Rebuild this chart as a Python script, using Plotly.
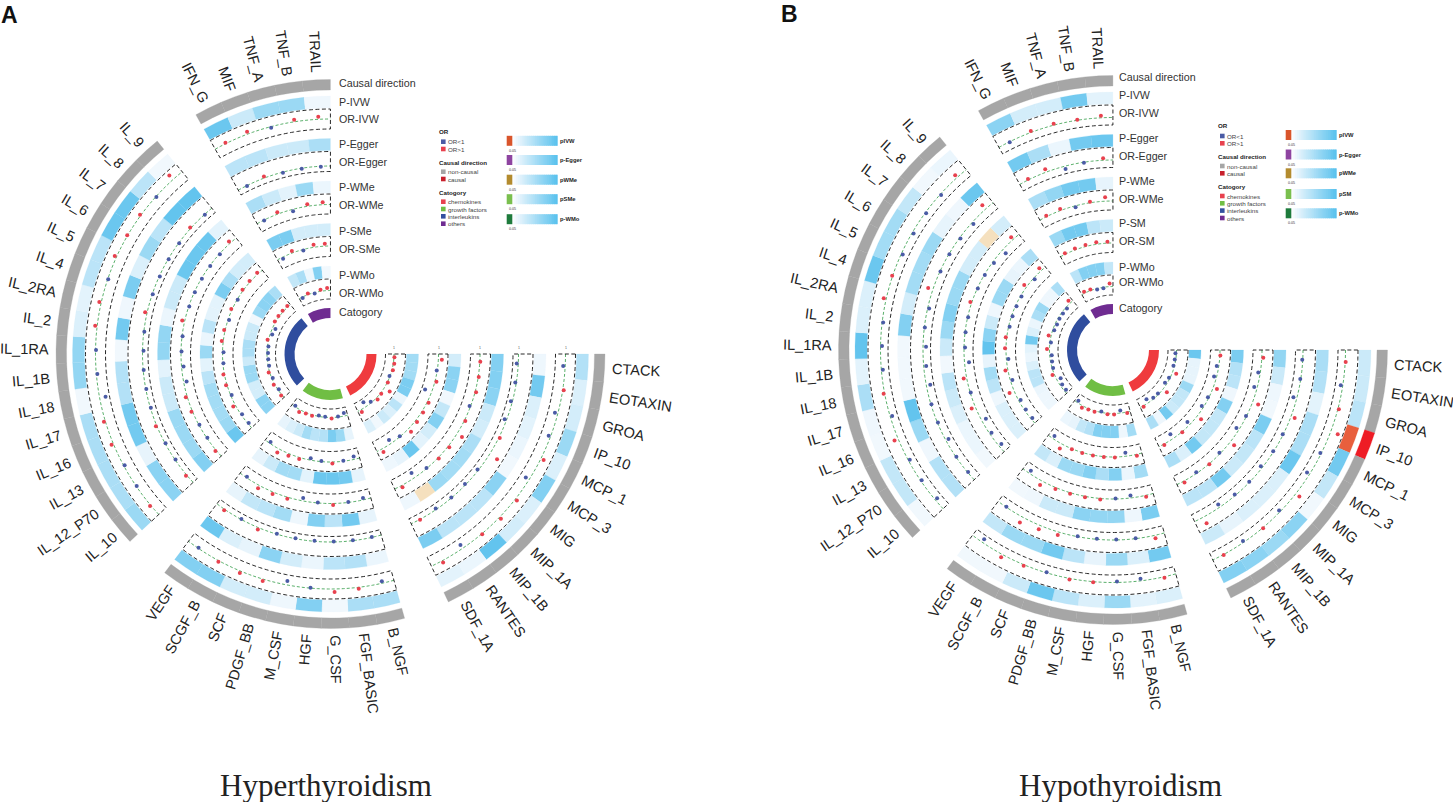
import numpy as np
import plotly.graph_objects as go

W, H = 1453, 802

CHEMOKINES = ["CTACK","EOTAXIN","GROA","IP_10","MCP_1","MCP_3","MIG","MIP_1A","MIP_1B","RANTES","SDF_1A"]
GROWTH = ["B_NGF","FGF_BASIC","G_CSF","HGF","M_CSF","PDGF_BB","SCF","SCGF_B","VEGF"]
INTERLEUKINS = ["IL_10","IL_12_P70","IL_13","IL_16","IL_17","IL_18","IL_1B","IL_1RA","IL_2","IL_2RA","IL_4","IL_5","IL_6","IL_7","IL_8","IL_9"]
OTHERS = ["IFN_G","MIF","TNF_A","TNF_B","TRAIL"]

# P values: chemokines | growth factors | interleukins | others
P_IVW_A = [.45,.2,.25,.6,.2,.75,.2,.25,.95,.1,.15, .5,.5,.06,.75,.08,.25,.25,.75,.75,
           .6,.5,.5,.5,.5,.06,.65,.65,.2,.15,.4,.4,.9,.9,.4,.06, .9,.3,.6,.6,.07]
P_EGG_A = [.08,.85,.2,.15,.1,.06,.7,.4,.4,.4,.8, .1,.45,.4,.1,.25,.7,.12,.2,.9,
           .7,.7,.12,.85,.85,.45,.45,.06,.85,.07,.8,.2,.6,.4,.95,.95, .4,.4,.3,.3,.5]
P_WME_A = [.75,.75,.7,.3,.25,.5,.55,.55,.6,.04,.08, .12,.85,.4,.75,.08,.55,.4,.35,.12,
           .75,.6,.6,.6,.3,.3,.15,.65,.65,.1,.3,.3,.9,.9,.9,.15, .5,.3,.15,.6,.1]
P_SME_A = [.25,.7,.7,.06,.35,.75,.25,.15,.9,.12,.08, .12,.85,.9,.9,.15,.55,.55,.3,.12,
           .9,.6,.55,.55,.55,.4,.15,.6,.1,.4,.15,.15,.8,.5,.25,.25, .8,.8,.25,.25,.25]
P_WMO_A = [.55,.55,.55,.8,.8,.1,.4,.2,.3,.06,.2, .12,.6,.8,.45,.4,.55,.3,.2,.12,
           .7,.7,.25,.25,.6,.6,.3,.5,.5,.3,.3,.06,.6,.7,.7,.5, .35,.5,.08,.75,.06]

P_IVW_B = [.3,.3,.4,.015,.85,.35,.06,.7,.6,.7,.75, .2,.15,.6,.2,.4,.9,.3,.06,.06,
           .06,.35,.35,.06,.07,.5,.15,.95,.2,.2,.9,.55,.55,.35,.06,.1, .7,.25,.25,.85,.15]
P_EGG_B = [.5,.45,.15,.5,.5,.9,.2,.2,.2,.12,.3, .85,.2,.6,.12,.4,.85,.6,.6,.35,
           .45,.45,.07,.6,.95,.06,.06,.06,.75,.25,.55,.55,.6,.12,.07,.9, .85,.5,.1,.85,.9]
P_WME_B = [.65,.3,.08,.06,.8,.4,.35,.3,.85,.4,.4, .8,.08,.65,.65,.7,.3,.3,.07,.06,
           .06,.1,.1,.2,.3,.4,.06,.3,.6,.75,.6,.6,.25,.25,.04,.25, .5,.65,.85,.85,.12]
P_SME_B = [.8,.45,.4,.07,.75,.35,.35,.35,.85,.2,.5, .55,.1,.75,.5,.75,.6,.6,.2,.35,
           .2,.2,.2,.08,.4,.55,.12,.95,.7,.3,.07,.6,.6,.12,.1,.5, .6,.85,.85,.4,.3]
P_WMO_B = [.9,.12,.12,.12,.6,.35,.35,.3,.85,.08,.5, .55,.08,.75,.75,.75,.45,.35,.12,.1,
           .08,.08,.1,.4,.4,.2,.1,.15,.85,.2,.1,.5,.6,.08,.08,.5, .4,.75,.75,.75,.35]

# Odds ratios
OR_IVW_A = [.96,1.02,.94,.96,1.06,.92,1.04,1.04,1.01,.92,1.04, .96,1.03,1.06,.99,.92,1.04,1.04,1.02,.99,
            1.02,.99,.98,1.04,1.03,.88,.98,.99,1.04,1.04,.99,1.04,1.01,1.02,.99,1.11, 1.02,1.05,.98,1.04,1.05]
OR_EGG_A = [.97,.98,.97,.96,1.02,1.18,.98,.98,.99,.98,1.01, .99,.99,.99,.99,.99,.99,1.04,.99,1.02,
            1.02,.99,.99,1.02,.99,.99,.99,.98,.99,1.04,.99,.99,.99,.99,1.02,.99, .99,1.03,.99,.99,.99]
OR_WME_A = [1.01,1.01,1.02,.98,1.02,1.12,1.03,1.02,.99,.89,1.04, .96,.99,1.03,.99,.94,1.03,1.04,1.06,.98,
            1.02,.99,.99,1.02,1.03,.94,.96,.99,.99,1.05,.99,.99,.99,.99,.99,1.04, .99,1.04,.96,1.04,1.05]
OR_SME_A = [1.07,.99,1.03,.86,1.03,1.03,1.04,1.08,.99,.92,1.07, .94,.99,1.03,.99,.96,1.03,1.04,1.08,.97,
            .98,.98,1.05,.98,1.02,1.02,.99,.98,1.03,1.02,.98,1.02,.99,1.02,1.02,1.03, .97,1.04,.98,1.05,1.05]
OR_WMO_A = [1.01,1.02,1.02,.99,1.01,1.13,1.02,1.04,.98,.90,1.05, .94,.99,1.02,.99,.98,1.02,1.02,1.05,.98,
            1.02,.98,1.02,.98,1.02,.98,.98,.98,.98,1.02,.96,.94,1.02,1.02,1.02,1.02, .98,1.02,.98,1.03,1.05]

OR_IVW_B = [1.01,.96,1.02,1.15,.98,.94,1.09,.97,1.01,.97,1.01, 1.02,.96,.98,1.01,1.02,.99,1.02,1.06,.93,
            .95,.98,.97,1.08,.96,1.02,.97,.97,.98,1.05,1.01,.97,.97,.98,.98,1.06, .99,1.03,1.03,1.01,1.04]
OR_EGG_B = [.99,.99,.93,1.08,.99,.99,.96,.99,.98,.94,1.14, 1.06,.99,.99,.99,.99,1.06,1.08,1.12,.99,
            .99,.99,.94,.99,.99,.92,.95,.94,.99,.97,1.1,.99,.99,.98,.96,1.1, 1.02,1.06,.94,.99,1.04]
OR_WME_B = [1.03,.96,.94,1.12,.99,.94,1.1,.98,1.01,.98,1.03, 1.03,.95,.99,1.02,1.02,1.02,1.03,1.09,.94,
            .94,.96,.91,1.08,.99,1.06,.91,.98,.99,.99,1.03,.99,.99,.97,.91,1.06, 1.02,1.03,.97,1.02,1.08]
OR_SME_B = [1.01,.96,.95,1.08,.98,.96,1.1,.93,1.01,.9,1.02, 1.03,.93,1.01,1.01,1.01,1.01,1.01,1.1,.94,
            .97,.97,.96,1.1,.96,1.05,.96,1.02,1.02,.98,.98,.98,.98,1.06,.97,1.06, 1.02,1.03,1.03,1.04,1.03]
OR_WMO_B = [.98,.98,.98,1.08,.98,.96,1.1,.98,.98,.92,1.02, 1.02,.95,1.02,1.02,.98,1.02,1.02,1.04,.96,
            .96,.96,.92,1.04,.98,.97,.96,1.05,.98,1.05,.97,.96,.97,.97,.97,1.06, 1.03,1.02,.98,.98,1.06]

CAUSAL_A = []          # proteins with a causal direction
CAUSAL_B = ["IP_10"]

TRACK_LABELS_A = ["Causal direction","P-IVW","OR-IVW","P-Egger","OR-Egger","P-WMe","OR-WMe","P-SMe","OR-SMe","P-WMo","OR-WMo","Catogory"]
TRACK_LABELS_B = ["Causal direction","P-IVW","OR-IVW","P-Egger","OR-Egger","P-WMe","OR-WMe","P-SM","OR-SM","P-WMo","OR-WMo","Catogory"]
GRAD_LABELS_A = ["pIVW","p-Egger","pWMe","pSMe","p-WMo"]
GRAD_LABELS_B = ["pIVW","p-Egger","pWMe","pSM","p-WMo"]

# ---- styling / geometry ----
FONT = "Liberation Sans"
STEP, GAP = 5.87, 9.77
SECTORS = [CHEMOKINES, GROWTH, INTERLEUKINS, OTHERS]
CAT_COLORS = ["#EF3B3E", "#70BE44", "#2F4D9E", "#6F2C91"]
GRAY, RED, BLUE = "#A6A6A6", "#E8414E", "#4A5BA5"
P_OUTER = [258, 215.5, 173, 130.5, 88]
P_H = 12
OR_OUTER = [245, 202.5, 160, 117.5, 75]
OR_H = 20
OR_PX = 50     # pixels per OR unit
LABEL_SIZE = 14.6

ALL = [n for s in SECTORS for n in s]
thetas, spans = [], []
t = 90.0
for s in SECTORS:
    start = t
    for _ in s:
        thetas.append(t + STEP / 2)
        t += STEP
    spans.append((start, t))
    t += GAP
thetas = np.array(thetas)


def lerp(c0, c1, f):
    return tuple(a + (b - a) * f for a, b in zip(c0, c1))


def p_color(p):
    stops = [(0.0, (238, 28, 37)), (0.02, (230, 118, 70)), (0.04, (245, 224, 190)), (0.05, (243, 249, 254)), (1.0, (91, 194, 238))]
    for (a, ca), (b, cb) in zip(stops, stops[1:]):
        if p <= b:
            c = lerp(ca, cb, (p - a) / (b - a))
            return "rgb(%d,%d,%d)" % c
    return "rgb(91,194,238)"


WIDTHS = {"_": .556, "I": .278, "M": .833, "N": .722, "O": .778, "C": .722, "D": .722, "G": .778, "H": .722, "R": .722, "U": .722, "F": .611, "T": .611, "L": .556}


def text_width(s, size):
    return sum(.556 if ch.isdigit() else WIDTHS.get(ch, .667) for ch in s) * size


def px(x, y):
    return x / W, 1 - y / H


fig = go.Figure()
annotations, shapes = [], []


def text(x, y, s, size, color="#2b2b2b", anchor="left", angle=0, bold=False, family=FONT):
    xp, yp = px(x, y)
    annotations.append(dict(x=xp, y=yp, xref="paper", yref="paper", text="<b>%s</b>" % s if bold else s,
                            showarrow=False, xanchor=anchor, yanchor="middle", textangle=angle,
                            borderpad=0, borderwidth=0,
                            font=dict(family=family, size=size, color=color)))


def panel(sub, cx, cy, P_sets, OR_sets, r_ones, causal, label_x, label_ys, labels, ticks):
    R = 300
    key = "polar" if sub == 1 else "polar%d" % sub
    fig.update_layout(**{key: dict(
        domain=dict(x=[(cx - R) / W, (cx + R) / W], y=[1 - (cy + R) / H, 1 - (cy - R) / H]),
        bgcolor="rgba(0,0,0,0)", barmode="overlay",
        radialaxis=dict(visible=False, range=[0, R]),
        angularaxis=dict(visible=False, rotation=90, direction="clockwise"))})
    sp = key

    # causal direction ring
    colors = ["#EE1C25" if n in causal else GRAY for n in ALL]
    fig.add_trace(go.Barpolar(theta=thetas, r=[10.5] * len(ALL), base=264, width=STEP, subplot=sp,
                              marker=dict(color=colors, line=dict(color=colors, width=.3)), hoverinfo="skip"))
    # category ring
    for (a, b), c in zip(spans, CAT_COLORS):
        fig.add_trace(go.Barpolar(theta=[(a + b) / 2], r=[10], base=36, width=b - a, subplot=sp,
                                  marker=dict(color=c, line=dict(width=0)), hoverinfo="skip"))
    for i in range(5):
        # P-value heat ring
        colors = [p_color(p) for p in P_sets[i]]
        fig.add_trace(go.Barpolar(theta=thetas, r=[P_H] * len(ALL), base=P_OUTER[i] - P_H, width=STEP, subplot=sp,
                                  marker=dict(color=colors, line=dict(color=colors, width=.2)), hoverinfo="skip"))
        # OR track frame
        ro, ri = OR_OUTER[i], OR_OUTER[i] - OR_H
        fr, ft, gr, gt = [], [], [], []
        for a, b in spans:
            arc = np.linspace(a, b, 60).tolist()
            ft += arc + arc[::-1] + [a, None]
            fr += [ro] * 60 + [ri] * 60 + [ro, None]
            gt += arc + [None]
            gr += [r_ones[i]] * 60 + [None]
        fig.add_trace(go.Scatterpolar(theta=gt, r=gr, mode="lines", subplot=sp, hoverinfo="skip",
                                      line=dict(color="#2F9A44", width=.8, dash="3px,2px")))
        fig.add_trace(go.Scatterpolar(theta=ft, r=fr, mode="lines", subplot=sp, hoverinfo="skip",
                                      line=dict(color="#111111", width=.9, dash="4px,2.5px")))
        vals = np.array(OR_sets[i])
        fig.add_trace(go.Scatterpolar(theta=thetas, r=r_ones[i] + (vals - 1) * OR_PX, mode="markers", subplot=sp,
                                      hoverinfo="skip",
                                      marker=dict(size=4, color=[RED if v > 1 else BLUE for v in vals], line=dict(width=0))))
        if ticks:
            text(cx + r_ones[i], cy - 6.5, "1", 3.5, color="#555555", anchor="center")

    # protein labels
    for n, th in zip(ALL, thetas):
        w = text_width(n, LABEL_SIZE)
        rc = 281.5 + w / 2
        x = cx + rc * np.sin(np.radians(th))
        y = cy - rc * np.cos(np.radians(th))
        angle = th - 90 if th < 180 else th + 90 - 360
        text(x, y, n, LABEL_SIZE, color="#222222", anchor="center", angle=float(angle))

    # track labels
    for s, y in zip(labels, label_ys):
        text(label_x, y, s, 10.7, color="#333333")


panel(1, 330.5, 354, [P_IVW_A, P_EGG_A, P_WME_A, P_SME_A, P_WMO_A], [OR_IVW_A, OR_EGG_A, OR_WME_A, OR_SME_A, OR_WMO_A],
      [235, 188, 149.5, 108, 63.5], CAUSAL_A, 339,
      [82.7, 101.7, 119.3, 144.3, 162.3, 187, 205.3, 231, 249, 275, 292.7, 312.3], TRACK_LABELS_A, True)
panel(2, 1113, 350, [P_IVW_B, P_EGG_B, P_WME_B, P_SME_B, P_WMO_B], [OR_IVW_B, OR_EGG_B, OR_WME_B, OR_SME_B, OR_WMO_B],
      [232.5, 190, 149, 107, 63.5], CAUSAL_B, 1118.5,
      [76.7, 95, 113.3, 138.3, 156.3, 181, 198.7, 222.7, 241, 266.7, 282.3, 308.3], TRACK_LABELS_B, False)


def rect(x0, y0, x1, y1, color):
    a, b = px(x0, y0), px(x1, y1)
    shapes.append(dict(type="rect", xref="paper", yref="paper", x0=a[0], y0=b[1], x1=b[0], y1=a[1],
                       fillcolor=color, line=dict(width=0), layer="above"))


def legend(ox, oy, grad_ys, grad_labels):
    SZ = 6.2
    items = [(0, "OR", None, True), (10, "OR<1", BLUE, False), (17.3, "OR>1", RED, False),
             (30.6, "Causal direction", None, True), (40, "non-causal", GRAY, False), (47.3, "causal", "#C8202C", False),
             (60.6, "Catogory", None, True), (70, "chemokines", RED, False), (77.3, "growth factors", "#70BE44", False),
             (84.6, "interleukins", "#3350A0", False), (92, "others", "#6F2C91", False)]
    for dy, s, c, bold in items:
        if c is None:
            text(ox - 1, oy + dy, s, SZ, color="#222222", bold=True)
        else:
            rect(ox + 1, oy + dy - 2.3, ox + 5.6, oy + dy + 2.3, c)
            text(ox + 8.3, oy + dy, s, SZ, color="#444444")
    bars = ["#D9552B", "#8E44A0", "#B38B2E", "#7ABF4E", "#1E7B3C"]
    for y, c, s in zip(grad_ys, bars, grad_labels):
        gx = ox + 66.7
        n = 24
        for k in range(n):
            f = k / (n - 1)
            col = "rgb(%d,%d,%d)" % lerp((250, 252, 255), (91, 194, 238), f)
            rect(gx + 5.6 + k * 45.4 / n, y - 5, gx + 5.6 + (k + 1) * 45.4 / n + (0.6 if k < n - 1 else 0), y + 5, col)
        rect(gx, y - 5, gx + 5.6, y + 5, c)
        text(gx + 6, y + 10, "0.05", 3.6, color="#333333", anchor="center")
        text(ox + 120, y, s, 5.8, color="#222222", bold=True)


legend(440, 131.7, [140.8, 160, 179.7, 199.2, 219.2], GRAD_LABELS_A)
legend(1219, 126, [135, 154.5, 173.3, 194, 213.3], GRAD_LABELS_B)

text(1, 15, "A", 23, color="#111111", bold=True)
text(781, 14, "B", 23, color="#111111", bold=True)
text(326, 785, "Hyperthyroidism", 31, color="#222222", anchor="center", family="Liberation Serif")
text(1120, 785, "Hypothyroidism", 31, color="#222222", anchor="center", family="Liberation Serif")

fig.update_layout(width=W, height=H, margin=dict(l=0, r=0, t=0, b=0, pad=0), autosize=False,
                  showlegend=False, paper_bgcolor="white", plot_bgcolor="white",
                  annotations=annotations, shapes=shapes)
fig.write_html("out.html", config={"displayModeBar": False},
               post_script="document.body.style.margin='0';document.documentElement.style.overflow='hidden';")
